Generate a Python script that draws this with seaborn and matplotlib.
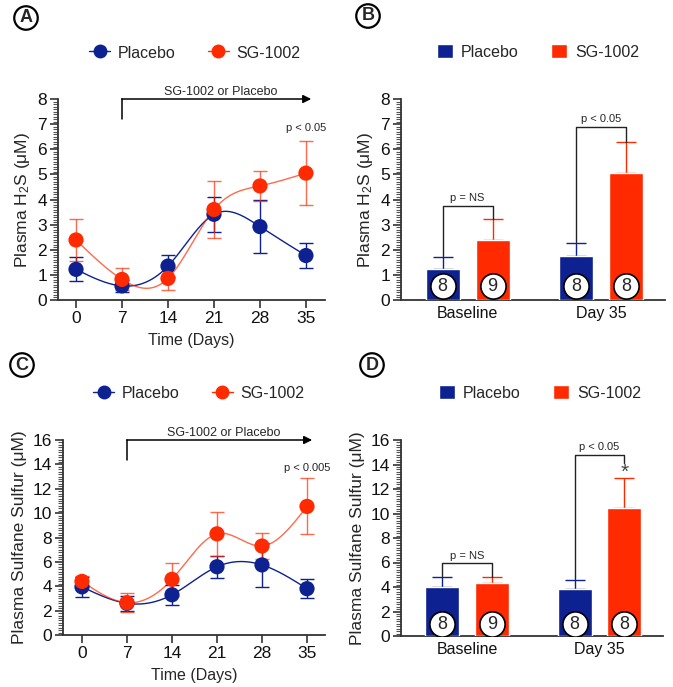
import numpy as np
import pandas as pd
import seaborn as sns
import matplotlib.pyplot as plt
from matplotlib.lines import Line2D
from matplotlib.patches import Patch
from matplotlib.ticker import MultipleLocator

# ---- data ----
days = [0, 7, 14, 21, 28, 35]
groups = ["Placebo", "SG-1002"]

h2s_placebo = [1.22, 0.56, 1.35, 3.41, 2.92, 1.77]
h2s_placebo_sem = [0.48, 0.25, 0.45, 0.70, 1.05, 0.50]
h2s_sg = [2.39, 0.82, 0.86, 3.60, 4.54, 5.05]
h2s_sg_sem = [0.82, 0.44, 0.46, 1.15, 0.60, 1.27]

sulf_placebo = [3.95, 2.60, 3.30, 5.60, 5.75, 3.80]
sulf_placebo_sem = [0.80, 0.60, 0.82, 0.90, 1.80, 0.80]
sulf_sg = [4.40, 2.65, 4.57, 8.30, 7.30, 10.55]
sulf_sg_sem = [0.42, 0.80, 1.37, 1.80, 1.10, 2.30]

bar_cats = ["Baseline", "Day 35"]
h2s_bar_placebo = [1.22, 1.75]
h2s_bar_placebo_err = [0.48, 0.50]
h2s_bar_sg = [2.39, 5.04]
h2s_bar_sg_err = [0.82, 1.26]
sulf_bar_placebo = [3.97, 3.81]
sulf_bar_placebo_err = [0.87, 0.76]
sulf_bar_sg = [4.35, 10.48]
sulf_bar_sg_err = [0.49, 2.39]
n_placebo = [8, 8]
n_sg = [9, 8]

BLUE = "#0d2191"
RED = "#ff2a00"
AXC = "#333333"

sns.set_style("ticks")
plt.rcParams["font.family"] = ["Liberation Sans", "DejaVu Sans"]
plt.rcParams["mathtext.fontset"] = "custom"
plt.rcParams["mathtext.rm"] = "Liberation Sans"
plt.rcParams["mathtext.it"] = "Liberation Sans"


def spline(x, y, n=300):
    # natural cubic spline through the points (GraphPad-like smooth connector)
    x = np.asarray(x, float)
    y = np.asarray(y, float)
    h = np.diff(x)
    m = len(x)
    A = np.zeros((m, m))
    r = np.zeros(m)
    A[0, 0] = A[-1, -1] = 1
    for i in range(1, m - 1):
        A[i, i - 1] = h[i - 1]
        A[i, i] = 2 * (h[i - 1] + h[i])
        A[i, i + 1] = h[i]
        r[i] = 3 * ((y[i + 1] - y[i]) / h[i] - (y[i] - y[i - 1]) / h[i - 1])
    c = np.linalg.solve(A, r)
    b = (y[1:] - y[:-1]) / h - h * (2 * c[:-1] + c[1:]) / 3
    d = (c[1:] - c[:-1]) / (3 * h)
    xs = np.linspace(x[0], x[-1], n)
    k = np.clip(np.searchsorted(x, xs) - 1, 0, m - 2)
    dx = xs - x[k]
    return xs, y[k] + b[k] * dx + c[k] * dx ** 2 + d[k] * dx ** 3


def style_axis(ax, major, minor, ymax):
    sns.despine(ax=ax)
    for s in ("left", "bottom"):
        ax.spines[s].set_color(AXC)
        ax.spines[s].set_linewidth(1.3)
    ax.set_ylim(0, ymax)
    ax.yaxis.set_major_locator(MultipleLocator(major))
    ax.yaxis.set_minor_locator(MultipleLocator(minor))
    ax.tick_params(axis="both", which="major", length=6, width=1.2,
                   color=AXC, labelsize=12.5, labelcolor="#111111", pad=2)
    ax.tick_params(axis="y", which="minor", left=True, length=3.5, width=0.8,
                   color="#555555")
    ax.tick_params(axis="x", which="minor", bottom=False)


def panel_letter(fig, x, y, letter):
    fig.text(x / 673, 1 - y / 687, letter, ha="center", va="center",
             fontsize=13, fontweight="bold",
             bbox=dict(boxstyle="circle,pad=0.18", fc="white", ec="black", lw=1.6))


def line_panel(ax, pl, pl_e, sg, sg_e, ymax, major, minor, ylabel, ptext, plabel, xlim):
    df = pd.DataFrame({"day": days * 2,
                       "value": pl + sg,
                       "group": [groups[0]] * 6 + [groups[1]] * 6})
    for vals, errs, col, a in ((pl, pl_e, BLUE, 1.0), (sg, sg_e, RED, 0.7)):
        xs, ys = spline(days, vals)
        ax.plot(xs, ys, color=col, lw=1.0, alpha=a, zorder=2)
        ax.errorbar(days, vals, yerr=errs, fmt="none", ecolor=col, elinewidth=1.0,
                    capsize=5, capthick=1.0, alpha=a, zorder=3)
    sns.scatterplot(data=df, x="day", y="value", hue="group", palette=[BLUE, RED],
                    s=120, edgecolor="none", legend=False, ax=ax, zorder=4)
    style_axis(ax, major, minor, ymax)
    ax.set_xlim(*xlim)
    ax.set_xticks(days)
    ax.set_xlabel("Time (Days)", fontsize=11.5, labelpad=5)
    ax.set_ylabel(ylabel, fontsize=12.5, labelpad=4)
    # treatment arrow
    top = ymax
    ax.plot([7, 7], [top * 0.9, top], color="black", lw=1.1, clip_on=False)
    ax.annotate("", xy=(35.8, top), xytext=(6.95, top), xycoords="data",
                arrowprops=dict(arrowstyle="-|>", color="black", lw=1.1,
                                mutation_scale=12, shrinkA=0, shrinkB=0),
                annotation_clip=False)
    ax.text(22, top * 1.035, "SG-1002 or Placebo", ha="center", va="center",
            fontsize=9, clip_on=False)
    ax.text(35, ptext, plabel, ha="center", va="center", fontsize=8)
    handles = [Line2D([], [], color=c, marker="o", markersize=9, lw=1.0)
               for c in (BLUE, RED)]
    return handles


def bar_panel(ax, pl, pl_e, sg, sg_e, ymax, major, minor, ylabel,
              ns_y, sig_y, sig_text, circ_y, star=None):
    df = pd.DataFrame({"cat": bar_cats * 2,
                       "value": pl + sg,
                       "group": [groups[0]] * 2 + [groups[1]] * 2})
    sns.barplot(data=df, x="cat", y="value", hue="group", palette=[BLUE, RED],
                width=0.75, gap=0.32, errorbar=None, saturation=1,
                legend=False, ax=ax, zorder=3)
    centers = []
    for cont, errs, col in zip(ax.containers, (pl_e, sg_e), (BLUE, RED)):
        xs = [p.get_x() + p.get_width() / 2 for p in cont.patches]
        ys = [p.get_height() for p in cont.patches]
        centers.append(xs)
        ax.errorbar(xs, ys, yerr=[[0] * len(ys), errs], fmt="none", ecolor=col,
                    elinewidth=1.0, capsize=7, capthick=1.0, zorder=2)
    style_axis(ax, major, minor, ymax)
    ax.tick_params(axis="x", length=0, labelsize=11.5, pad=4)
    ax.set_xlim(-0.5, 1.48)
    ax.set_xlabel("")
    ax.set_ylabel(ylabel, fontsize=12.5, labelpad=4)
    # n circles
    for xs, ns in zip(centers, (n_placebo, n_sg)):
        for x, n in zip(xs, ns):
            ax.scatter([x], [circ_y], s=330, color="white", edgecolor="black",
                       linewidth=1.2, zorder=5)
            ax.text(x, circ_y, str(n), ha="center", va="center", fontsize=13, zorder=6)
    # significance brackets
    tops_pl = [v + e for v, e in zip(pl, pl_e)]
    tops_sg = [v + e for v, e in zip(sg, sg_e)]
    for i, (yb, txt) in enumerate(((ns_y, "p = NS"), (sig_y, sig_text))):
        x0, x1 = centers[0][i], centers[1][i]
        y1_end = tops_sg[i] if i == 0 else (star[1] if star else tops_sg[i])
        ax.plot([x0, x0, x1, x1], [tops_pl[i] + ymax * 0.005, yb, yb, y1_end],
                color="#222222", lw=1.0, zorder=4)
        ax.text((x0 + x1) / 2, yb + ymax * 0.04, txt, ha="center", va="center",
                fontsize=8)
    if star:
        ax.text(centers[1][1], star[0], "*", ha="center", va="center",
                fontsize=15, color="#444444")
    handles = [Patch(facecolor=c) for c in (BLUE, RED)]
    return handles


fig = plt.figure(figsize=(6.73, 6.87), dpi=100)
axA = fig.add_axes([58 / 673, 1 - 300 / 687, 267 / 673, 201 / 687])
axB = fig.add_axes([401 / 673, 1 - 300 / 687, 264 / 673, 201 / 687])
axC = fig.add_axes([63 / 673, 1 - 635 / 687, 262 / 673, 195 / 687])
axD = fig.add_axes([401 / 673, 1 - 636 / 687, 262 / 673, 196 / 687])

hA = line_panel(axA, h2s_placebo, h2s_placebo_sem, h2s_sg, h2s_sg_sem,
                8, 1, 0.1, "Plasma H$_2$S (μM)", 6.85, "p < 0.05", (-2.74, 37.9))
hC = line_panel(axC, sulf_placebo, sulf_placebo_sem, sulf_sg, sulf_sg_sem,
                16, 2, 0.2, "Plasma Sulfane Sulfur (μM)", 13.7, "p < 0.005",
                (-2.95, 37.8))
hB = bar_panel(axB, h2s_bar_placebo, h2s_bar_placebo_err, h2s_bar_sg, h2s_bar_sg_err,
               8, 1, 0.1, "Plasma H$_2$S (μM)", 3.74, 6.87, "p < 0.05", 0.55)
hD = bar_panel(axD, sulf_bar_placebo, sulf_bar_placebo_err, sulf_bar_sg, sulf_bar_sg_err,
               16, 2, 0.2, "Plasma Sulfane Sulfur (μM)", 5.93, 14.78, "p < 0.05",
               0.95, star=(13.4, 14.15))

for ax, h, (cx, cy), hl in ((axA, hA, (195, 53), 1.3), (axB, hB, (538, 52), 1.0),
                            (axC, hC, (199, 393), 1.3), (axD, hD, (540, 393), 1.0)):
    ax.legend(h, groups, loc="center", bbox_to_anchor=(cx / 673, 1 - cy / 687),
              bbox_transform=fig.transFigure, ncol=2, frameon=False, fontsize=11.5,
              columnspacing=2.0, handletextpad=0.5, handlelength=hl, handleheight=1.0)

panel_letter(fig, 26, 18, "A")
panel_letter(fig, 368, 16, "B")
panel_letter(fig, 22, 365, "C")
panel_letter(fig, 372, 365, "D")

fig.savefig("out.png", dpi=100, facecolor="white")
